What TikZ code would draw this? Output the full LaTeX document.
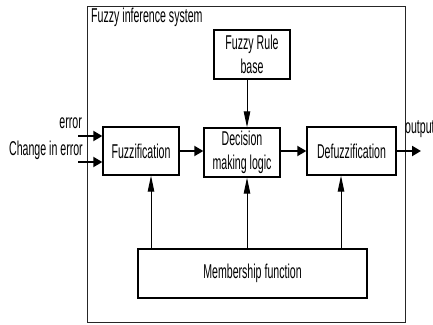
\documentclass[tikz,border=0pt]{standalone}
\usepackage{fontspec}
\setmainfont{Liberation Sans}[FakeStretch=0.53]
\usetikzlibrary{arrows.meta,calc}
\begin{document}
\begin{tikzpicture}[x=1pt,y=-1pt,
  font=\fontsize{20}{24}\selectfont,
  block/.style={draw,line width=1.4pt,minimum width=#1,minimum height=48pt,
    inner sep=0pt,align=center},
  flow/.style={line width=2pt,-{Triangle[length=9pt,width=10pt]}},
  feed/.style={line width=1pt,-{Triangle[length=16pt,width=6.5pt]}}]
\useasboundingbox (0,0) rectangle (433,324);
% enclosing system boundary
\draw[line width=1pt,black!85] (87,6) rectangle (405,322);
\node[anchor=base west,inner sep=0pt] (title) at (91,22) {Fuzzy inference system};
% blocks
\node[block=76pt,minimum height=49pt] (rule) at (252,54.5) {Fuzzy Rule\\base};
\node[block=76pt] (fuzz) at (141,151) {Fuzzification};
\node[block=76pt,minimum height=49pt] (dec) at (242,152.5) {Decision\\making logic};
\node[block=89pt] (defuzz) at (351.5,151) {Defuzzification};
\node[block=229pt,minimum height=49pt] (mem) at (252.5,273.5) {Membership function};
% inputs and output
\coordinate (in1) at (78,136);
\coordinate (in2) at (78,162);
\coordinate (out) at (421,151);
\node[anchor=base east,inner sep=0pt] (lerr) at (82,128) {error};
\node[anchor=base east,inner sep=0pt] (lderr) at (83,155) {Change in error};
\node[anchor=base west,inner sep=0pt] (lout) at (405,133) {output};
\draw[flow] (in1) -- (in1 -| fuzz.west);
\draw[flow] (in2) -- (in2 -| fuzz.west);
\draw[flow] (fuzz.east |- 0,151) -- (dec.west |- 0,151);
\draw[flow] (dec.east |- 0,151) -- (defuzz.west |- 0,151);
\draw[flow] (defuzz.east |- out) -- (out);
% rule base and membership feeds
\draw[feed] (rule.south -| 247,0) -- (dec.north -| 247,0);
\draw[feed] (mem.north -| 151,0) -- (fuzz.south -| 151,0);
\draw[feed] (mem.north -| 247,0) -- (dec.south -| 247,0);
\draw[feed] (mem.north -| 341,0) -- (defuzz.south -| 341,0);
\end{tikzpicture}
\end{document}
